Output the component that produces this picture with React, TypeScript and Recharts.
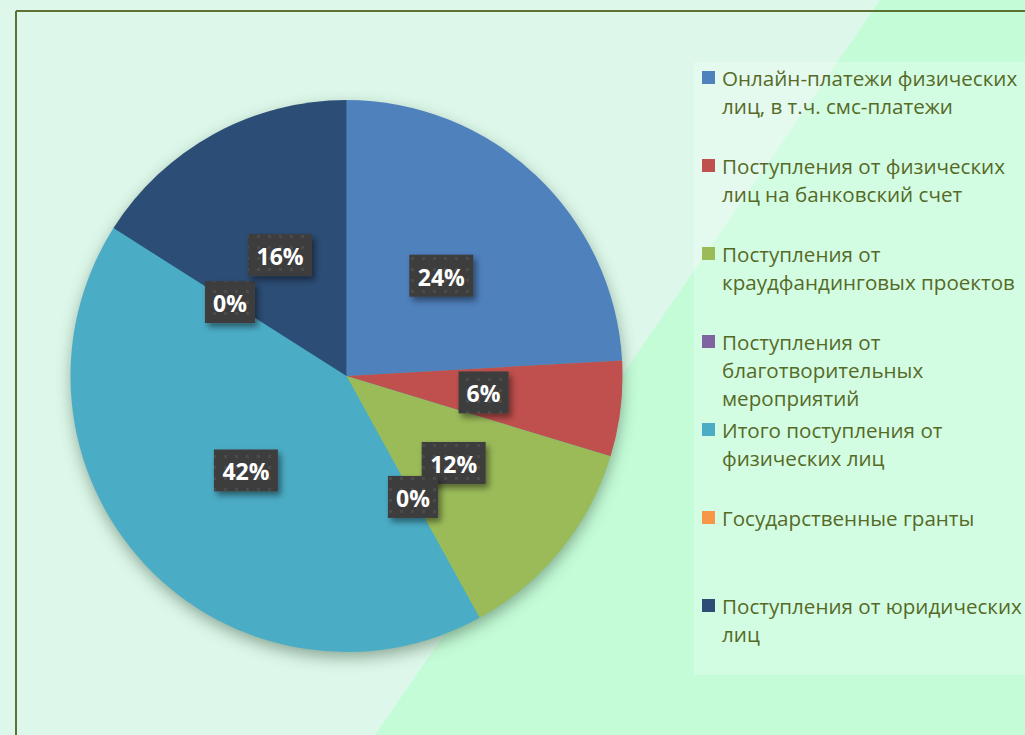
import React from 'react';
import { PieChart, Pie, Cell, Legend } from 'recharts';

const categories = [
  'Онлайн-платежи физических лиц, в т.ч. смс-платежи',
  'Поступления от физических лиц на банковский счет',
  'Поступления от краудфандинговых проектов',
  'Поступления от благотворительных мероприятий',
  'Итого поступления от физических лиц',
  'Государственные гранты',
  'Поступления от юридических лиц',
];
const legendLines = [
  ['Онлайн-платежи физических', 'лиц, в т.ч. смс-платежи'],
  ['Поступления от физических', 'лиц на банковский счет'],
  ['Поступления от', 'краудфандинговых проектов'],
  ['Поступления от', 'благотворительных', 'мероприятий'],
  ['Итого поступления от', 'физических лиц'],
  ['Государственные гранты'],
  ['Поступления от юридических', 'лиц'],
];
const values = [24.1, 5.6, 12.3, 0, 42.0, 0, 16.0];
const colors = ['#4f81bd', '#c0504d', '#9bbb59', '#8064a2', '#4bacc6', '#f79646', '#2c4d75'];

const data = categories.map((name, i) => ({ name, value: values[i] }));

const CX = 346.5;
const CY = 376;
const R = 276;
const TEXT = '#566a28';

const renderLabel = (props: any) => {
  const { cx, cy, midAngle, outerRadius, percent, index } = props;
  const RAD = Math.PI / 180;
  const r = outerRadius * 0.5;
  const x = cx + r * Math.cos(-midAngle * RAD);
  const y = cy + r * Math.sin(-midAngle * RAD);
  const text = `${Math.round(percent * 100)}%`;
  const w = text.length > 2 ? 64 : 50;
  const h = 42;
  return (
    <g key={`lbl-${index}`}>
      <rect x={x - w / 2} y={y - h / 2} width={w} height={h} fill="url(#dots)" filter="url(#lblShadow)" />
      <text
        x={x}
        y={y + 1}
        fill="#ffffff"
        textAnchor="middle"
        dominantBaseline="central"
        fontSize={23}
        fontWeight={700}
        fontFamily="'Open Sans', sans-serif"
      >
        {text}
      </text>
    </g>
  );
};

const renderLegend = () => (
  <div style={{ position: 'relative', width: 331, height: 613 }}>
    {legendLines.map((lines, i) => (
      <div
        key={i}
        style={{ position: 'absolute', left: 0, top: 2 + i * 88, display: 'flex', alignItems: 'flex-start' }}
      >
        <div style={{ width: 13, height: 13, background: colors[i], marginLeft: 8, marginTop: 7, flex: 'none' }} />
        <div
          style={{
            marginLeft: 7,
            fontFamily: "'Open Sans', sans-serif",
            fontSize: 20.6,
            lineHeight: '28px',
            color: TEXT,
            whiteSpace: 'nowrap',
          }}
        >
          {lines.map((l, j) => (
            <div key={j}>{l}</div>
          ))}
        </div>
      </div>
    ))}
  </div>
);

export default function App() {
  return (
    <div
      style={{
        position: 'fixed',
        left: 0,
        top: 0,
        width: 1025,
        height: 735,
        overflow: 'hidden',
        background: '#ddf8ea',
      }}
    >
      <svg width={1025} height={735} style={{ position: 'absolute', left: 0, top: 0 }}>
        <defs>
          <pattern id="dots" x="0" y="0" width="11" height="11" patternUnits="userSpaceOnUse">
            <rect x="0" y="0" width="11" height="11" fill="#3d3d3d" />
            <rect x="4" y="4" width="3" height="3" fill="#4c4c4c" />
          </pattern>
          <filter id="lblShadow" x="-30%" y="-30%" width="170%" height="170%">
            <feDropShadow dx="3" dy="4" stdDeviation="3" floodColor="#000" floodOpacity="0.45" />
          </filter>
        </defs>
        <polygon points="880,0 1025,0 1025,735 375,735" fill="#c5fcd8" />
        <line x1={16} y1={11} x2={1025} y2={11} stroke="#5e7132" strokeWidth={2} />
        <line x1={16} y1={11} x2={16} y2={735} stroke="#5e7132" strokeWidth={2} />
      </svg>
      <div
        style={{
          position: 'absolute',
          left: 694,
          top: 62,
          width: 331,
          height: 613,
          background: 'rgba(255,255,255,0.25)',
        }}
      />
      <div
        style={{
          position: 'absolute',
          left: CX - R + 1,
          top: CY - R + 1,
          width: 2 * R - 2,
          height: 2 * R - 2,
          borderRadius: '50%',
          background: '#4bacc6',
          boxShadow: '0 6px 16px rgba(30,60,40,0.45)',
        }}
      />
      <div style={{ position: 'absolute', left: 0, top: 0 }}>
        <PieChart width={1025} height={735} margin={{ top: 0, right: 0, bottom: 0, left: 0 }}>
          <Pie
            data={data}
            dataKey="value"
            nameKey="name"
            cx={CX}
            cy={CY}
            outerRadius={R}
            startAngle={90}
            endAngle={-270}
            stroke="none"
            label={renderLabel}
            labelLine={false}
            isAnimationActive={false}
          >
            {data.map((d, i) => (
              <Cell key={d.name} fill={colors[i]} />
            ))}
          </Pie>
          <Legend
            content={renderLegend}
            wrapperStyle={{ position: 'absolute', left: 694, top: 62, width: 331, height: 613 }}
          />
        </PieChart>
      </div>
    </div>
  );
}
